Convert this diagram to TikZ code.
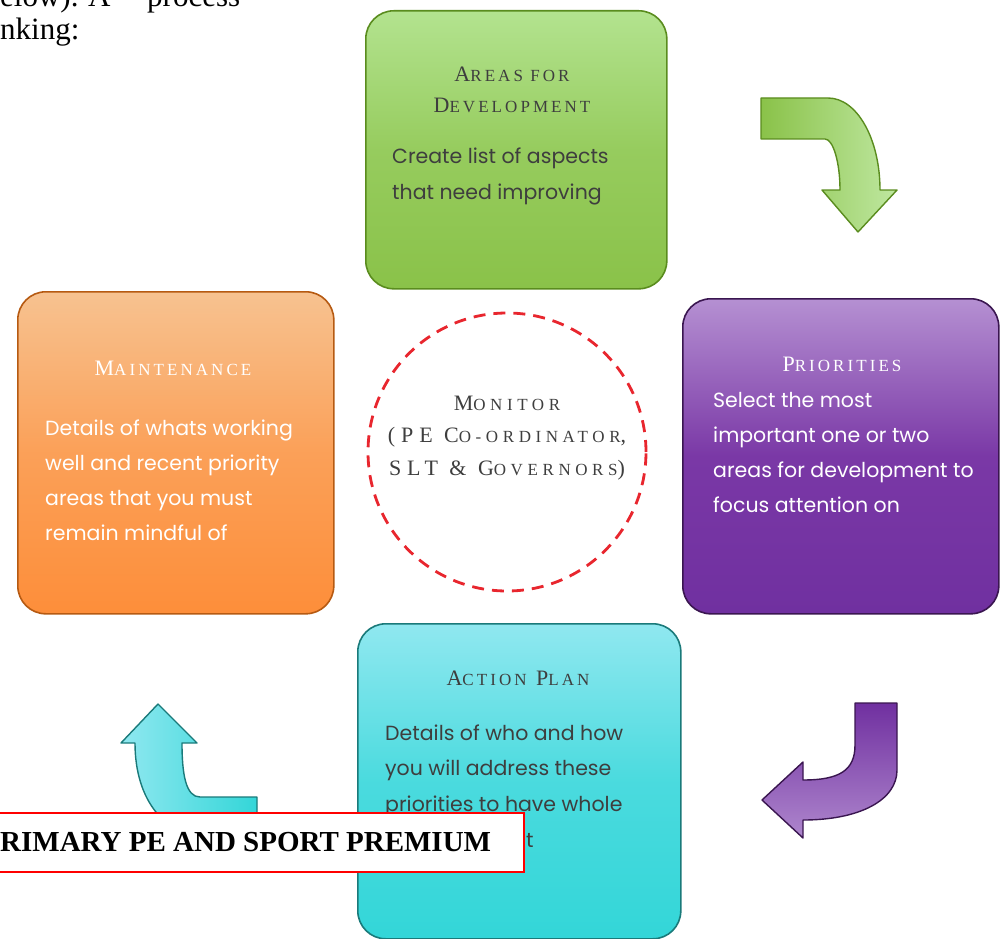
\documentclass[tikz,border=0pt]{standalone}
\usepackage{fontspec}
\setmainfont{Liberation Serif}
\newfontfamily\bodyfont{Poppins}
\newfontfamily\ttlfont{Liberation Serif}[LetterSpace=18]
\newfontfamily\monfont{Liberation Serif}[LetterSpace=27]
\usetikzlibrary{shapes.geometric}
\definecolor{gTop}{HTML}{B3E38F}\definecolor{gBot}{HTML}{8AC249}\definecolor{gLine}{HTML}{5A8C1E}
\definecolor{oTop}{HTML}{F7C290}\definecolor{oBot}{HTML}{FD8E3A}\definecolor{oLine}{HTML}{B65A12}
\definecolor{pTop}{HTML}{B590D2}\definecolor{pMid}{HTML}{7A38A6}\definecolor{pBot}{HTML}{7030A0}\definecolor{pLine}{HTML}{3A1650}
\definecolor{cTop}{HTML}{90E8F0}\definecolor{cBot}{HTML}{33D6D8}\definecolor{cLine}{HTML}{1A7A7A}
\definecolor{darktxt}{HTML}{3E3E3E}
\definecolor{monred}{HTML}{E8262E}
\newcommand\sm[1]{{\fontsize{17}{18}\selectfont #1}}
\tikzset{
  card/.style={draw, line width=1.6pt, rounded corners=28pt, inner sep=0pt, anchor=north west},
  ttl/.style={anchor=base, inner sep=0pt, font=\ttlfont\fontsize{22}{22}\selectfont},
  montxt/.style={anchor=base, inner sep=0pt, font=\monfont\fontsize{22}{22}\selectfont, text=darktxt},
  bodyline/.style={anchor=base west, inner sep=0pt, font=\bodyfont\fontsize{20.5}{22}\selectfont},
  arr/.style={line width=1.4pt, line join=round},
  doctext/.style={anchor=base west, inner sep=0pt, font=\fontsize{31}{31}\selectfont}
}
\begin{document}
\begin{tikzpicture}[x=1pt,y=-1pt]
\useasboundingbox (0,0) rectangle (1001,939);
\clip (0,0) rectangle (1001,939);
% document text at top left
\node[doctext] (d1) at (0,7) {elow).};
\node[doctext] (d2) at (88,7) {A};
\node[doctext] (d3) at (147,7) {process};
\node[doctext] (d4) at (0,40) {nking:};

% cards
\node[card, draw=gLine, top color=gTop, bottom color=gBot, middle color=gBot!70!gTop, minimum width=301pt, minimum height=278pt] (green) at (365,10) {};
\node[card, draw=oLine, top color=oTop, bottom color=oBot, middle color=oBot!65!oTop, minimum width=316pt, minimum height=322pt] (orange) at (17,291) {};
\node[card, draw=pLine, top color=pTop, bottom color=pBot, middle color=pMid, minimum width=316pt, minimum height=315pt] (purple) at (682,298) {};
\node[card, draw=cLine, top color=cTop, bottom color=cBot, middle color=cBot!75!cTop, minimum width=323pt, minimum height=315pt] (cyan) at (357,623) {};

% monitor circle
\node[circle, draw=monred, line width=2.8pt, dash pattern=on 12pt off 8pt, minimum size=278pt, inner sep=0pt] (monitor) at (507,452) {};
\node[montxt] (mon1) at (507,410) {M\sm{ONITOR}};
\node[montxt] (mon2) at (507,442) {(PE C\sm{O-ORDINATOR},};
\node[montxt] (mon3) at (507,475) {SLT \& G\sm{OVERNORS})};

% green text
\node[ttl, text=darktxt] (gt1) at (512,82) {A\sm{REAS FOR}};
\node[ttl, text=darktxt] (gt2) at (512,113) {D\sm{EVELOPMENT}};
\foreach \t [count=\i] in {Create list of aspects, that need improving}
  \node[bodyline, text=darktxt] (gb\i) at (392,{164+35*(\i-1)}) {\t};

% orange text
\node[ttl, text=white] (ot1) at (173,375) {M\sm{AINTENANCE}};
\foreach \t [count=\i] in {Details of whats working, well and recent priority, areas that you must, remain mindful of}
  \node[bodyline, text=white] (ob\i) at (45,{435+35*(\i-1)}) {\t};

% purple text
\node[ttl, text=white] (pt1) at (842,371) {P\sm{RIORITIES}};
\foreach \t [count=\i] in {Select the most, important one or two, areas for development to, focus attention on}
  \node[bodyline, text=white] (pb\i) at (713,{407+35*(\i-1)}) {\t};

% cyan text
\node[ttl, text=darktxt] (ct1) at (518,685) {A\sm{CTION} P\sm{LAN}};
\foreach \t [count=\i] in {Details of who and how, you will address these, priorities to have whole}
  \node[bodyline, text=darktxt] (cb\i) at (385,{740+35.5*(\i-1)}) {\t};
\node[bodyline, text=darktxt] (cb4) at (526,847) {t};

% green arrow
\draw[arr, draw=gLine, left color=gBot, right color=gTop!85!white]
  (761,98) -- (828,98) .. controls (857,98) and (880,139) .. (880,190)
  -- (897,190) -- (858,232) -- (822,190) -- (840,190)
  .. controls (840,162) and (833,139) .. (825,139) -- (761,139) -- cycle;

% purple arrow
\draw[arr, draw=pLine, top color=pBot, bottom color=pTop!90!pBot]
  (855,703) -- (897,703) -- (897,770) .. controls (897,800) and (860,820) .. (803,820)
  -- (803,838) -- (762,800) -- (803,762) -- (803,780)
  .. controls (840,780) and (855,770) .. (855,745) -- cycle;

% cyan arrow
\draw[arr, draw=cLine, left color=cTop, right color=cBot]
  (135,743) -- (121,743) -- (158,704) -- (197,743) -- (182,743)
  .. controls (182,775) and (186,797) .. (200,797) -- (257,797) -- (257,839)
  -- (215,839) .. controls (165,839) and (135,800) .. (135,743) -- cycle;

% overlapping heading box
\node[draw=red, line width=1.8pt, fill=white, anchor=north west, minimum width=533pt, minimum height=59pt, inner sep=0pt] (hbox) at (-10,812) {};
\node[anchor=base west, inner sep=0pt, font=\bfseries\fontsize{29}{29}\selectfont] (htext) at (0,851) {RIMARY PE AND SPORT PREMIUM};
\end{tikzpicture}
\end{document}
